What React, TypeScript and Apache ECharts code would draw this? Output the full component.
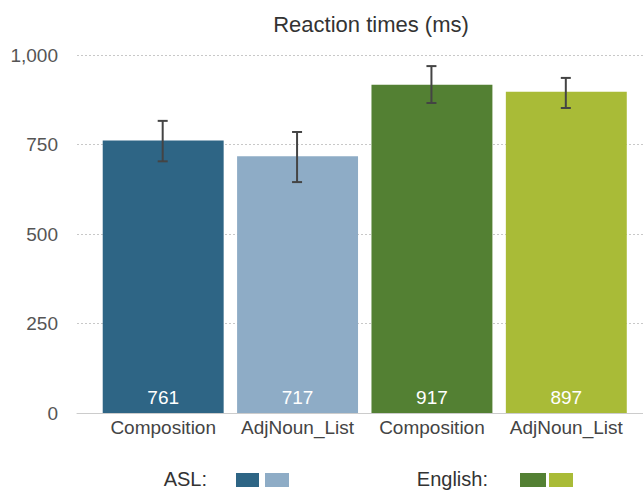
import React, { useEffect, useRef } from "react";
import * as echarts from "echarts";

const categories = ["Composition", "AdjNoun_List", "Composition", "AdjNoun_List"];
const meanRT = [761, 717, 917, 897];
const errLow = [703, 645, 866, 852];
const errHigh = [816, 785, 969, 936];
const barColors = ["#2e6585", "#8eacc6", "#538033", "#a9bb37"];
const yTicks = [0, 250, 500, 750, 1000];
const legendGroups = ["ASL:", "English:"];

const FONT = "'Liberation Sans', Arial, Helvetica, sans-serif";

export default function App() {
  const ref = useRef<HTMLDivElement>(null);
  useEffect(() => {
    if (!ref.current) return;
    const chart = echarts.init(ref.current, null, { renderer: "svg" });
    const yMin = yTicks[0];
    const yMax = yTicks[yTicks.length - 1];
    const interval = yTicks[1] - yTicks[0];
    const option: any = {
      animation: false,
      backgroundColor: "#ffffff",
      textStyle: { fontFamily: FONT },
      title: {
        text: "Reaction times (ms)",
        left: 366,
        textAlign: "center",
        top: 8,
        textStyle: { fontFamily: FONT, fontSize: 22, fontWeight: "normal", color: "#333" },
      },
      grid: [
        { left: 77, right: 0, top: 55, bottom: 79 },
        { left: 96, right: 9.5, top: 55, bottom: 79 },
      ],
      xAxis: [
        {
          gridIndex: 0,
          type: "value",
          min: 0,
          max: 1,
          axisLine: { show: true, onZero: false, lineStyle: { color: "#cccccc", width: 1 } },
          axisTick: { show: false },
          axisLabel: { show: false },
          splitLine: { show: false },
        },
        {
          gridIndex: 1,
          type: "category",
          data: categories,
          axisLine: { show: false },
          axisTick: { show: false },
          axisLabel: { color: "#444", fontSize: 19, fontFamily: FONT, margin: 5, interval: 0 },
        },
      ],
      yAxis: [
        {
          gridIndex: 0,
          type: "value",
          min: yMin,
          max: yMax,
          interval,
          axisLine: { show: false },
          axisTick: { show: false },
          axisLabel: {
            color: "#555",
            fontSize: 19,
            fontFamily: FONT,
            margin: 19,
            formatter: (v: number) => v.toLocaleString("en-US"),
          },
          splitLine: { show: true, lineStyle: { color: "#c8c8c8", type: [2, 2], width: 1 } },
        },
        {
          gridIndex: 1,
          type: "value",
          min: yMin,
          max: yMax,
          interval,
          show: false,
          splitLine: { show: false },
        },
      ],
      series: [
        {
          type: "bar",
          xAxisIndex: 1,
          yAxisIndex: 1,
          barCategoryGap: "10%",
          data: meanRT.map((v, i) => ({ value: v, itemStyle: { color: barColors[i] } })),
          label: {
            show: true,
            position: "insideBottom",
            distance: 6,
            color: "#ffffff",
            fontSize: 19,
            fontFamily: FONT,
          },
        },
        {
          type: "custom",
          xAxisIndex: 1,
          yAxisIndex: 1,
          data: meanRT.map((_, i) => [i, errLow[i], errHigh[i]]),
          encode: { x: 0, y: [1, 2] },
          z: 10,
          renderItem: (params: any, api: any) => {
            const x = api.value(0);
            const lo = api.coord([x, api.value(1)]);
            const hi = api.coord([x, api.value(2)]);
            const cx = lo[0] - 0.5;
            const hw = 5;
            const st = { stroke: "#444", lineWidth: 2 };
            return {
              type: "group",
              children: [
                { type: "line", shape: { x1: cx, y1: lo[1], x2: cx, y2: hi[1] }, style: st },
                { type: "line", shape: { x1: cx - hw, y1: lo[1], x2: cx + hw, y2: lo[1] }, style: st },
                { type: "line", shape: { x1: cx - hw, y1: hi[1], x2: cx + hw, y2: hi[1] }, style: st },
              ],
            };
          },
        },
      ],
      graphic: [
        {
          type: "text",
          right: 643 - 207,
          top: 469,
          style: { text: legendGroups[0], fontSize: 20, fontFamily: FONT, fill: "#333", textAlign: "right" },
        },
        { type: "rect", left: 236, top: 473, shape: { width: 23, height: 14 }, style: { fill: barColors[0] } },
        { type: "rect", left: 265, top: 473, shape: { width: 24, height: 14 }, style: { fill: barColors[1] } },
        {
          type: "text",
          right: 643 - 488,
          top: 469,
          style: { text: legendGroups[1], fontSize: 20, fontFamily: FONT, fill: "#333", textAlign: "right" },
        },
        { type: "rect", left: 520, top: 473, shape: { width: 26, height: 14 }, style: { fill: barColors[2] } },
        { type: "rect", left: 549, top: 473, shape: { width: 24, height: 14 }, style: { fill: barColors[3] } },
      ],
    };
    chart.setOption(option);
    return () => chart.dispose();
  }, []);
  return (
    <div
      ref={ref}
      style={{ position: "fixed", left: 0, top: 0, width: 643, height: 492, background: "#fff" }}
    />
  );
}
